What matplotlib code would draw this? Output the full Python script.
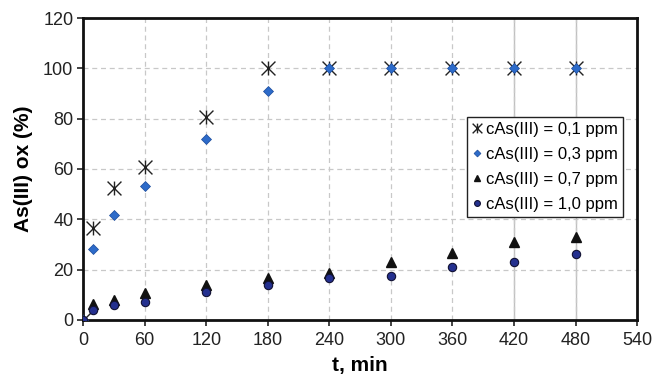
import matplotlib
matplotlib.use('Agg')
import matplotlib.pyplot as plt
from matplotlib.path import Path

plt.rcParams['font.family'] = ['Liberation Sans', 'DejaVu Sans']

# データ
t = [0, 10, 30, 60, 120, 180, 240, 300, 360, 420, 480]
c01 = [0, 36.7, 52.5, 60.7, 80.7, 100, 100, 100, 100, 100, 100]
c03 = [0, 28, 41.5, 53.2, 72, 90.8, 100, 100, 100, 100, 100]
c07 = [0, 6.5, 8, 10.5, 14, 16.5, 18.5, 23, 26.5, 31, 33]
c10 = [0, 4, 5.8, 7, 11, 14, 16.5, 17.5, 21, 23, 26]
labels = ['cAs(III) = 0,1 ppm', 'cAs(III) = 0,3 ppm',
          'cAs(III) = 0,7 ppm', 'cAs(III) = 1,0 ppm']

# X に縦線を加えたマーカー
star = Path([(-1, -1), (1, 1), (-1, 1), (1, -1), (0, -1), (0, 1)],
            [Path.MOVETO, Path.LINETO, Path.MOVETO, Path.LINETO, Path.MOVETO, Path.LINETO])

fig = plt.figure(figsize=(6.7, 3.84), dpi=100)
ax = fig.add_axes([0.124, 0.167, 0.827, 0.786])

# グリッド（420, 480 は実線）
ax.set_axisbelow(True)
ax.grid(True, linestyle=(0, (4, 3)), color='#c8c8c8', linewidth=0.9)
for v in [420, 480]:
    ax.axvline(v, color='#c0c0c0', linewidth=1.0, zorder=0.5)

ax.plot(t, c01, linestyle='none', marker=star, markersize=10, markeredgewidth=1.0,
        color='#222222', label=labels[0], zorder=3)
ax.plot(t, c03, linestyle='none', marker='D', markersize=5, color='#2d6bc9',
        markeredgecolor='#1a4a9a', markeredgewidth=0.5, label=labels[1], zorder=4)
ax.plot(t, c07, linestyle='none', marker='^', markersize=7, color='#111111',
        label=labels[2], zorder=3)
ax.plot(t, c10, linestyle='none', marker='o', markersize=6, color='#24308f',
        markeredgecolor='#111133', markeredgewidth=0.8, label=labels[3], zorder=4)

ax.set_xlim(0, 540)
ax.set_ylim(0, 120)
ax.set_xticks(range(0, 541, 60))
ax.set_yticks(range(0, 121, 20))
ax.tick_params(labelsize=13, colors='#222222', length=4, width=1.2, direction='out')
ax.tick_params(axis='x', pad=5)
ax.tick_params(axis='y', pad=3)
for s in ax.spines.values():
    s.set_linewidth(2)
    s.set_color('#111111')

ax.set_xlabel('t, min', fontsize=15, fontweight='bold', labelpad=5)
ax.set_ylabel('As(III) ox (%)', fontsize=15, fontweight='bold', labelpad=7)

leg = ax.legend(loc='upper left', bbox_to_anchor=(0.693, 0.672), fontsize=12,
                frameon=True, fancybox=False, edgecolor='#222222', framealpha=1,
                handlelength=0.55, handletextpad=0.3, borderpad=0.3,
                labelspacing=0.6, markerscale=0.7, borderaxespad=0)
leg.get_frame().set_linewidth(1.0)

plt.savefig('out.png', dpi=100)
